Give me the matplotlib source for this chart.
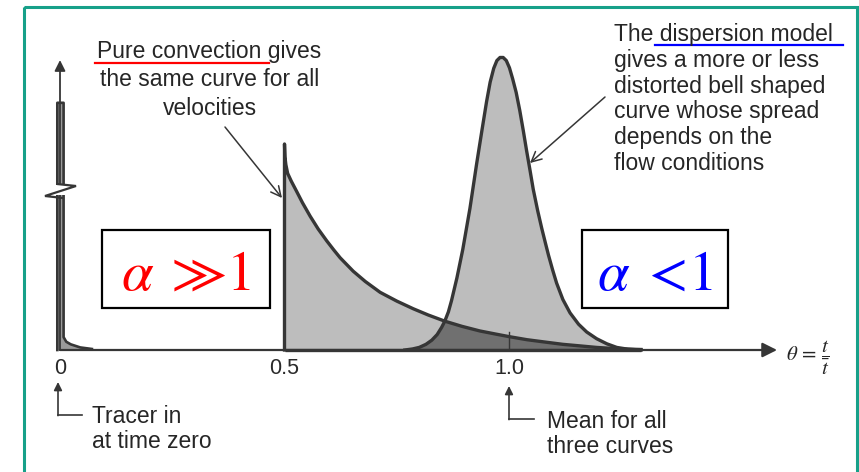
import matplotlib.pyplot as plt
from matplotlib.patches import Rectangle, Polygon
import numpy as np

plt.rcParams['font.family'] = ['Liberation Sans', 'DejaVu Sans']
plt.rcParams['mathtext.fontset'] = 'stix'

# E(theta) curves, theta = t / t_mean
# tracer pulse at theta = 0 (axis broken, top cut off)
spike_theta = [-0.006, -0.006, 0.008, 0.008, 0.014, 0.024, 0.045, 0.071]
spike_E = [0.0, 4.8, 4.8, 0.25, 0.16, 0.11, 0.05, 0.02]

# pure convection (laminar) response, starts at theta = 0.5
conv_theta = [0.5, 0.5, 0.501, 0.503, 0.507, 0.515, 0.527, 0.54, 0.557,
              0.575, 0.594, 0.61, 0.624, 0.653, 0.68, 0.713, 0.75, 0.787,
              0.82, 0.857, 0.895, 0.935, 0.97, 1.0, 1.04, 1.084, 1.12,
              1.158, 1.195, 1.232, 1.265, 1.294]
conv_E = [0.0, 4.0, 3.75, 3.6, 3.43, 3.28, 3.08, 2.86, 2.60,
          2.35, 2.12, 1.94, 1.79, 1.53, 1.33, 1.12, 0.95, 0.80,
          0.68, 0.56, 0.46, 0.37, 0.31, 0.26, 0.20, 0.15, 0.11,
          0.08, 0.05, 0.03, 0.017, 0.01]

# dispersion model response
disp_theta = [0.768, 0.785, 0.80, 0.815, 0.828, 0.84, 0.85, 0.857, 0.865,
              0.872, 0.884, 0.897, 0.913, 0.928, 0.94, 0.95, 0.958, 0.966,
              0.973, 0.98, 0.987, 0.994, 1.001, 1.008, 1.016, 1.024, 1.032,
              1.039, 1.047, 1.054, 1.064, 1.073, 1.081, 1.088, 1.097, 1.106,
              1.12, 1.136, 1.155, 1.173, 1.195, 1.218, 1.24, 1.265, 1.294]
disp_E = [0.0, 0.02, 0.05, 0.11, 0.19, 0.30, 0.44, 0.56, 0.74,
          0.96, 1.40, 1.95, 2.75, 3.62, 4.28, 4.82, 5.20, 5.47,
          5.62, 5.68, 5.68, 5.62, 5.48, 5.27, 5.00, 4.65, 4.25,
          3.88, 3.48, 3.12, 2.70, 2.36, 2.08, 1.84, 1.56, 1.30,
          0.98, 0.72, 0.50, 0.35, 0.22, 0.12, 0.05, 0.015, 0.0]

tick_pos = [0.0, 0.5, 1.0]
tick_labels = ['0', '0.5', '1.0']

W, H = 859, 472
x0, x_unit = 60, 449      # pixel of theta=0 and pixels per unit theta
y0, y_unit = 350, 51.5    # pixel of E=0 and pixels per unit E

fig = plt.figure(figsize=(W / 100, H / 100), dpi=100)
ax = fig.add_axes([0, 0, 1, 1])
ax.set_xlim(-x0 / x_unit, (W - x0) / x_unit)
ax.set_ylim((y0 - H) / y_unit, y0 / y_unit)
ax.axis('off')

line_col = '#363636'
fill_col = '#bdbdbd'
dark_col = '#707070'

# shaded areas
ax.fill_between(spike_theta, spike_E, color='#9a9a9a', lw=0)
ax.fill_between(conv_theta, conv_E, color=fill_col, lw=0)
ax.fill_between(disp_theta, disp_E, color=fill_col, lw=0)
grid = np.union1d(conv_theta[1:], disp_theta)
grid = grid[(grid >= disp_theta[0]) & (grid <= disp_theta[-1])]
both = np.minimum(np.interp(grid, conv_theta[1:], conv_E[1:]),
                  np.interp(grid, disp_theta, disp_E))
ax.fill_between(grid, both, color=dark_col, lw=0)

# axes with arrows
ax.annotate('', xy=(1.597, 0), xytext=(0, 0),
            arrowprops=dict(arrowstyle='-|>', color=line_col, lw=1.6,
                            mutation_scale=22, shrinkA=0, shrinkB=0))
ax.annotate('', xy=(0, 5.63), xytext=(0, 0),
            arrowprops=dict(arrowstyle='-|>', color=line_col, lw=1.3,
                            mutation_scale=16, shrinkA=0, shrinkB=0))
ax.plot([0.5, 1.294], [0, 0], color=line_col, lw=2.4, solid_capstyle='butt')
ax.plot([1.0, 1.0], [0, 0.35], color=line_col, lw=1.0)

# curve outlines
ax.plot(spike_theta, spike_E, color=line_col, lw=1.9, solid_joinstyle='round')
ax.plot(conv_theta, conv_E, color=line_col, lw=2.4, solid_joinstyle='round')
ax.plot(disp_theta, disp_E, color=line_col, lw=2.4, solid_joinstyle='round')

for p, lab in zip(tick_pos, tick_labels):
    ax.text(p, -0.36, lab, ha='center', va='center', fontsize=15.5,
            color='#2a2a2a')

# overlay in pixel units for the notes
ov = fig.add_axes([0, 0, 1, 1])
ov.set_xlim(0, W)
ov.set_ylim(H, 0)
ov.axis('off')
ov.patch.set_alpha(0)

txt_col = '#262626'

# broken axis mark on the tracer pulse
ov.add_patch(Rectangle((55, 185), 11, 10, fc='white', ec='none'))
ov.add_patch(Polygon([(57, 184), (76, 186), (45, 196), (63, 198)],
                     closed=False, fill=False, ec=line_col, lw=1.6,
                     joinstyle='miter'))

ov.text(209.5, 80, 'Pure convection gives\nthe same curve for all\nvelocities',
        ha='center', va='center', multialignment='center', fontsize=16.5,
        linespacing=1.3, color=txt_col)
ov.plot([95, 269], [63, 63], color='#ff0000', lw=1.6)
ov.annotate('', xy=(282, 198), xytext=(225, 127),
            arrowprops=dict(arrowstyle='->', color=line_col, lw=1.1,
                            mutation_scale=18, shrinkA=0, shrinkB=0))

ov.text(614, 99, 'The dispersion model\ngives a more or less\n'
        'distorted bell shaped\ncurve whose spread\ndepends on the\n'
        'flow conditions',
        ha='left', va='center', fontsize=16.5, linespacing=1.15,
        color=txt_col)
ov.plot([655, 843], [45, 45], color='#0000ff', lw=1.6)
ov.annotate('', xy=(530, 163), xytext=(605, 97),
            arrowprops=dict(arrowstyle='->', color=line_col, lw=1.1,
                            mutation_scale=18, shrinkA=0, shrinkB=0))

# alpha boxes
ov.add_patch(Rectangle((102, 230), 168, 78, fill=False, ec='black', lw=1.6))
ov.text(186, 290, r'$\alpha\;\gg\!1$', ha='center', va='baseline',
        fontsize=41, color='#ff0000')
ov.add_patch(Rectangle((582, 230), 146, 78, fill=False, ec='black', lw=1.6))
ov.text(655, 290, r'$\alpha\;<\!1$', ha='center', va='baseline',
        fontsize=41, color='#0000ff')

ov.text(786, 358, r'$\theta\,=\,\dfrac{t}{\bar{t}}$', ha='left',
        va='center', fontsize=15, color=txt_col)

# bottom notes
ov.plot([82, 58], [415, 415], color=line_col, lw=1.2)
ov.annotate('', xy=(58, 382), xytext=(58, 415.6),
            arrowprops=dict(arrowstyle='-|>', color=line_col, lw=1.2,
                            mutation_scale=12, shrinkA=0, shrinkB=0))
ov.text(92, 429, 'Tracer in\nat time zero', ha='left', va='center',
        fontsize=16.5, linespacing=1.12, color=txt_col)

ov.plot([534, 509], [419, 419], color=line_col, lw=1.2)
ov.annotate('', xy=(509, 386), xytext=(509, 419.6),
            arrowprops=dict(arrowstyle='-|>', color=line_col, lw=1.2,
                            mutation_scale=12, shrinkA=0, shrinkB=0))
ov.text(547, 434, 'Mean for all\nthree curves', ha='left', va='center',
        fontsize=16.5, linespacing=1.12, color=txt_col)

# frame
ov.add_patch(Rectangle((24, 7), 833, 480, fill=False, ec='#17a089', lw=2.2,
                       clip_on=False))

fig.savefig('out.png', dpi=100)
